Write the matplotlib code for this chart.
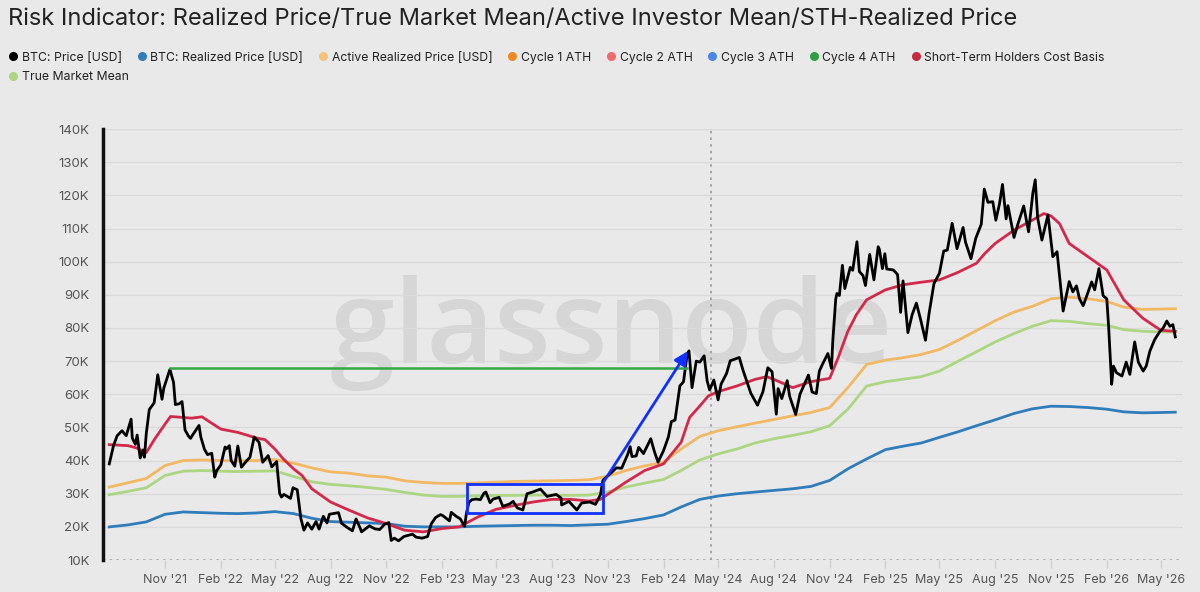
import pandas as pd
import matplotlib
matplotlib.use("Agg")
import matplotlib.pyplot as plt
import matplotlib.dates as mdates
import matplotlib.patches as patches
from matplotlib.lines import Line2D

BACKGROUND = "#e9e9e9"
GRID_COLOR = "#dadada"
TEXT_COLOR = "#222222"
TICK_COLOR = "#555555"
PRICE_COLOR = "#000000"
REALIZED_COLOR = "#2f7dbb"
ACTIVE_COLOR = "#f2b862"
TMM_COLOR = "#acd682"
STH_COLOR = "#d3284a"
MARK_BLUE = "#1030ff"
ATH_GREEN = "#34a844"
FONT = "Inter"

# BTC price, thousand USD
price_dates = [
    "2021-08-01", "2021-08-08", "2021-08-14", "2021-08-22", "2021-08-29", "2021-09-06", "2021-09-08",
    "2021-09-13", "2021-09-16", "2021-09-21", "2021-09-26", "2021-09-28", "2021-10-01", "2021-10-06",
    "2021-10-14", "2021-10-20", "2021-10-27", "2021-10-30", "2021-11-08", "2021-11-09", "2021-11-15",
    "2021-11-18", "2021-11-24", "2021-11-29", "2021-12-04", "2021-12-10", "2021-12-13", "2021-12-16",
    "2021-12-27", "2021-12-30", "2022-01-05", "2022-01-10", "2022-01-17", "2022-01-22", "2022-01-25",
    "2022-02-01", "2022-02-08", "2022-02-10", "2022-02-15", "2022-02-18", "2022-02-24", "2022-03-01",
    "2022-03-07", "2022-03-14", "2022-03-21", "2022-03-28", "2022-04-05", "2022-04-11", "2022-04-20",
    "2022-04-26", "2022-05-04", "2022-05-09", "2022-05-12", "2022-05-16", "2022-05-27", "2022-05-31",
    "2022-06-07", "2022-06-13", "2022-06-18", "2022-06-24", "2022-07-01", "2022-07-08", "2022-07-13",
    "2022-07-20", "2022-07-26", "2022-07-30", "2022-08-14", "2022-08-19", "2022-08-27", "2022-09-06",
    "2022-09-12", "2022-09-19", "2022-09-21", "2022-10-04", "2022-10-13", "2022-10-21", "2022-10-29",
    "2022-11-05", "2022-11-09", "2022-11-14", "2022-11-21", "2022-11-30", "2022-12-14", "2022-12-20",
    "2022-12-30", "2023-01-08", "2023-01-14", "2023-01-21", "2023-01-29", "2023-02-02", "2023-02-13",
    "2023-02-16", "2023-02-24", "2023-03-03", "2023-03-10", "2023-03-13", "2023-03-17", "2023-03-22",
    "2023-03-29", "2023-04-05", "2023-04-11", "2023-04-14", "2023-04-21", "2023-04-26", "2023-05-06",
    "2023-05-12", "2023-05-23", "2023-05-29", "2023-06-05", "2023-06-14", "2023-06-21", "2023-06-30",
    "2023-07-13", "2023-07-24", "2023-08-08", "2023-08-16", "2023-08-17", "2023-08-29", "2023-09-11",
    "2023-09-19", "2023-10-02", "2023-10-12", "2023-10-20", "2023-10-24", "2023-11-01", "2023-11-09",
    "2023-11-15", "2023-11-24", "2023-12-04", "2023-12-08", "2023-12-11", "2023-12-18", "2023-12-22",
    "2023-12-30", "2024-01-11", "2024-01-17", "2024-01-23", "2024-02-01", "2024-02-09", "2024-02-14",
    "2024-02-20", "2024-02-28", "2024-03-05", "2024-03-11", "2024-03-14", "2024-03-19", "2024-03-26",
    "2024-04-01", "2024-04-08", "2024-04-13", "2024-04-17", "2024-04-24", "2024-05-01", "2024-05-06",
    "2024-05-15", "2024-05-21", "2024-06-05", "2024-06-11", "2024-06-24", "2024-07-05", "2024-07-14",
    "2024-07-22", "2024-07-29", "2024-08-05", "2024-08-08", "2024-08-14", "2024-08-23", "2024-08-27",
    "2024-09-06", "2024-09-13", "2024-09-27", "2024-10-03", "2024-10-10", "2024-10-15", "2024-10-20",
    "2024-10-29", "2024-11-04", "2024-11-06", "2024-11-11", "2024-11-13", "2024-11-17", "2024-11-22",
    "2024-11-26", "2024-12-05", "2024-12-09", "2024-12-16", "2024-12-20", "2024-12-26", "2024-12-30",
    "2025-01-06", "2025-01-13", "2025-01-20", "2025-01-22", "2025-01-27", "2025-01-31", "2025-02-03",
    "2025-02-14", "2025-02-21", "2025-02-26", "2025-03-02", "2025-03-10", "2025-03-17", "2025-03-24",
    "2025-03-31", "2025-04-08", "2025-04-14", "2025-04-22", "2025-05-01", "2025-05-08", "2025-05-14",
    "2025-05-22", "2025-05-30", "2025-06-09", "2025-06-13", "2025-06-22", "2025-06-30", "2025-07-09",
    "2025-07-14", "2025-07-20", "2025-07-28", "2025-08-02", "2025-08-08", "2025-08-13", "2025-08-19",
    "2025-08-22", "2025-09-01", "2025-09-07", "2025-09-17", "2025-09-25", "2025-10-02", "2025-10-06",
    "2025-10-10", "2025-10-17", "2025-10-27", "2025-11-04", "2025-11-11", "2025-11-17", "2025-11-21",
    "2025-12-01", "2025-12-07", "2025-12-13", "2025-12-18", "2025-12-24", "2025-12-30", "2026-01-07",
    "2026-01-12", "2026-01-19", "2026-01-26", "2026-02-01", "2026-02-04", "2026-02-09", "2026-02-12",
    "2026-02-17", "2026-02-26", "2026-03-05", "2026-03-11", "2026-03-19", "2026-03-25", "2026-04-02",
    "2026-04-07", "2026-04-13", "2026-04-21", "2026-04-29", "2026-05-05", "2026-05-11", "2026-05-16",
    "2026-05-21", "2026-05-25",
]
price_values = [
    39.0, 44.5, 47.5, 49.0, 47.5, 52.5, 46.8,
    44.9, 47.7, 40.8, 43.2, 41.0, 48.1, 55.4,
    57.4, 65.9, 58.5, 61.9, 66.9, 67.5, 63.6,
    56.9, 57.1, 57.8, 49.2, 47.3, 46.7, 47.6,
    50.6, 47.1, 43.4, 41.8, 42.2, 35.0, 36.9,
    38.7, 44.1, 43.5, 44.5, 40.0, 38.3, 44.4,
    38.0, 39.6, 41.0, 47.1, 45.5, 39.5, 41.5,
    38.1, 39.7, 30.1, 29.0, 29.8, 28.6, 31.8,
    31.2, 22.5, 19.0, 21.2, 19.3, 21.6, 19.3,
    23.2, 21.2, 23.8, 24.3, 21.1, 20.0, 18.8,
    22.4, 19.5, 18.5, 20.3, 19.4, 19.2, 20.8,
    21.3, 15.9, 16.6, 15.8, 17.1, 17.8, 16.9,
    16.6, 17.1, 20.9, 22.8, 23.7, 23.4, 21.8,
    24.4, 23.2, 22.4, 20.2, 24.1, 27.4, 28.2,
    28.4, 28.2, 30.2, 30.5, 27.3, 28.4, 28.9,
    26.2, 26.9, 27.7, 25.7, 25.1, 30.0, 30.5,
    31.4, 29.2, 29.8, 28.7, 26.6, 27.7, 25.1,
    27.2, 27.5, 26.8, 29.7, 34.0, 35.4, 36.7,
    37.8, 37.7, 41.9, 44.2, 41.2, 41.4, 44.0,
    42.1, 46.6, 42.7, 39.5, 43.0, 47.1, 51.8,
    52.2, 62.5, 63.8, 72.1, 73.1, 62.0, 70.0,
    69.7, 71.6, 64.0, 61.3, 64.3, 58.3, 63.1,
    66.3, 70.1, 71.1, 67.3, 60.3, 56.7, 60.8,
    68.0, 66.8, 54.0, 61.7, 58.7, 64.1, 59.4,
    53.9, 60.0, 65.8, 60.7, 60.2, 67.0, 69.0,
    72.3, 67.8, 75.6, 88.7, 90.4, 89.8, 98.9,
    91.9, 98.3, 97.4, 106.0, 97.0, 95.8, 92.8,
    102.2, 94.5, 104.5, 103.7, 97.9, 102.4, 97.8,
    97.5, 96.1, 84.7, 94.2, 78.6, 84.0, 87.5,
    82.5, 76.3, 84.5, 93.4, 96.5, 103.2, 103.5,
    111.6, 103.9, 110.3, 105.9, 100.9, 107.1, 111.3,
    121.9, 117.9, 118.1, 112.5, 117.4, 123.3, 112.9,
    116.9, 107.3, 111.1, 116.8, 109.0, 120.6, 124.7,
    113.2, 106.5, 114.1, 101.5, 103.0, 92.2, 85.1,
    94.0, 90.9, 92.7, 88.8, 86.7, 89.7, 93.9,
    91.5, 97.9, 89.7, 88.8, 80.5, 63.0, 68.5,
    66.5, 65.5, 69.7, 66.0, 75.8, 69.7, 67.0,
    68.5, 73.0, 76.5, 78.8, 80.0, 82.1, 80.5,
    81.0, 77.3,
]

# smooth on-chain models, monthly, thousand USD
model_dates = list(pd.date_range("2021-08-01", "2026-05-01", freq="MS").strftime("%Y-%m-%d")) + ["2026-05-25"]
realized_price = [
    20.0, 20.6, 21.5, 23.8, 24.5,
    24.3, 24.1, 24.0, 24.2, 24.6, 24.0, 22.6, 21.6, 21.4, 21.2, 21.0, 20.2,
    20.0, 20.0, 20.0, 20.2, 20.3, 20.4, 20.5, 20.5, 20.4, 20.6, 20.8, 21.6,
    22.5, 23.6, 26.0, 28.3, 29.3, 30.0, 30.5, 31.0, 31.5, 32.2, 34.0, 37.5,
    40.5, 43.3, 44.3, 45.3, 47.0, 48.7, 50.5, 52.3, 54.2, 55.6, 56.4, 56.3,
    56.0, 55.5, 54.7, 54.4, 54.5, 54.6,
]
active_realized = [
    32.0, 33.3, 34.6, 38.5, 40.0,
    40.2, 40.0, 39.9, 40.0, 40.3, 39.2, 37.8, 36.6, 36.2, 35.4, 35.0, 33.9,
    33.4, 33.1, 33.1, 33.3, 33.5, 33.7, 33.8, 33.9, 34.0, 34.2, 35.3, 37.0,
    38.4, 39.5, 43.5, 47.3, 49.0, 50.2, 51.3, 52.4, 53.5, 54.5, 56.0, 62.0,
    69.0, 70.3, 71.0, 72.0, 73.5, 76.3, 79.2, 82.2, 84.8, 86.5, 88.8, 89.3,
    88.8, 88.0, 86.3, 85.6, 85.7, 85.8,
]
true_market_mean = [
    29.7, 30.7, 31.8, 35.5, 36.8,
    37.0, 36.8, 36.7, 36.8, 36.9, 35.2, 33.6, 32.8, 32.4, 31.9, 31.3, 30.4,
    29.6, 29.2, 29.2, 29.4, 29.5, 29.5, 29.6, 29.6, 29.5, 29.6, 30.5, 32.0,
    33.2, 34.3, 37.0, 40.2, 42.0, 43.5, 45.3, 46.6, 47.6, 48.7, 50.5, 55.5,
    62.5, 63.8, 64.5, 65.3, 67.0, 70.0, 72.8, 75.8, 78.3, 80.5, 82.2, 82.0,
    81.3, 80.8, 79.5, 79.0, 78.8, 78.8,
]

sth_dates = [
    "2021-08-01", "2021-09-01", "2021-09-15", "2021-10-01", "2021-10-15", "2021-11-01", "2021-11-10",
    "2021-12-01", "2021-12-15", "2022-01-01", "2022-01-15", "2022-02-01", "2022-03-01", "2022-04-01",
    "2022-04-15", "2022-05-01", "2022-05-15", "2022-06-01", "2022-06-15", "2022-07-01", "2022-08-01",
    "2022-09-01", "2022-10-01", "2022-11-01", "2022-12-01", "2023-01-01", "2023-02-01", "2023-03-01",
    "2023-04-01", "2023-05-01", "2023-06-01", "2023-07-01", "2023-08-01", "2023-09-01", "2023-10-01",
    "2023-10-20", "2023-11-01", "2023-12-01", "2024-01-01", "2024-02-01", "2024-03-01", "2024-03-15",
    "2024-04-01", "2024-04-15", "2024-05-01", "2024-06-01", "2024-07-01", "2024-07-20", "2024-08-01",
    "2024-09-01", "2024-10-01", "2024-11-01", "2024-11-15", "2024-12-01", "2024-12-15", "2025-01-01",
    "2025-02-01", "2025-03-01", "2025-04-01", "2025-05-01", "2025-06-01", "2025-07-01", "2025-07-15",
    "2025-08-01", "2025-09-01", "2025-10-01", "2025-10-20", "2025-11-01", "2025-11-15", "2025-12-01",
    "2026-01-01", "2026-02-01", "2026-03-01", "2026-04-01", "2026-05-01", "2026-05-25",
]
sth_values = [
    44.8, 44.5, 43.8, 42.4, 46.5, 51.0, 53.3,
    53.0, 52.8, 53.2, 51.5, 49.5, 48.5, 46.8,
    46.3, 43.5, 40.5, 37.5, 35.5, 31.5, 27.5,
    25.0, 22.7, 21.0, 19.0, 18.5, 19.5, 20.0,
    23.0, 25.3, 26.5, 27.5, 28.3, 28.3, 27.8,
    28.3, 29.8, 33.5, 37.0, 39.0, 45.5, 53.0,
    56.5, 59.5, 60.8, 62.5, 64.5, 65.3, 64.5,
    62.0, 63.8, 64.8, 71.0, 79.0, 84.0, 88.5,
    91.5, 93.0, 93.8, 94.5, 96.8, 99.5, 102.5,
    105.5, 109.5, 112.5, 114.5, 113.8, 111.5, 105.5,
    101.5, 97.5, 88.5, 83.0, 79.3, 79.0,
]

# annotations
cycle4_ath = 67.8
ath_line_span = ["2021-11-09", "2024-03-11"]
range_box = ["2023-03-14", "2023-10-25", 24.3, 33.0]
breakout_arrow = [("2023-10-25", 33.5), ("2024-03-12", 73.0)]
halving_date = "2024-04-20"

xtick_dates = pd.date_range("2021-11-01", "2026-05-01", freq="3MS")
yticks = list(range(10, 141, 10))

legend_items = [
    ("BTC: Price [USD]", "#000000"),
    ("BTC: Realized Price [USD]", "#2f7dbb"),
    ("Active Realized Price [USD]", "#f5c27a"),
    ("Cycle 1 ATH", "#ef8a22"),
    ("Cycle 2 ATH", "#f06b6b"),
    ("Cycle 3 ATH", "#4b88e8"),
    ("Cycle 4 ATH", "#2ea043"),
    ("Short-Term Holders Cost Basis", "#c8283f"),
    ("True Market Mean", "#acd682"),
]


def to_num(d):
    return mdates.date2num(pd.Timestamp(d))


def main():
    plt.rcParams["font.family"] = [FONT, "DejaVu Sans"]
    fig = plt.figure(figsize=(12, 5.92), dpi=100)
    fig.patch.set_facecolor(BACKGROUND)
    ax = fig.add_axes([0.086, 0.054, 0.9, 0.728])
    ax.set_facecolor(BACKGROUND)

    ax.text(0.471, 0.457, "glassnode", transform=ax.transAxes, ha="center", va="baseline",
            fontsize=84, color="#d6d6d6", family="Open Sans", fontweight="semibold", zorder=0)

    for y in yticks[1:]:
        ax.axhline(y, color=GRID_COLOR, linewidth=1.0, zorder=1)
    ax.axhline(10, color="#a8a8a8", linewidth=1.2, linestyle=(0, (1.5, 2.5)), zorder=1)
    ax.axvline(to_num(halving_date), color="#9a9a9a", linewidth=1.2, linestyle=(0, (1.5, 2.5)), zorder=1)

    mdts = pd.to_datetime(model_dates)
    ax.plot(mdts, realized_price, color=REALIZED_COLOR, linewidth=2.0, zorder=3)
    ax.plot(mdts, active_realized, color=ACTIVE_COLOR, linewidth=2.0, zorder=3)
    ax.plot(mdts, true_market_mean, color=TMM_COLOR, linewidth=2.0, zorder=3)
    ax.plot(pd.to_datetime(sth_dates), sth_values, color=STH_COLOR, linewidth=2.0, zorder=4)
    ax.plot(pd.to_datetime(price_dates), price_values, color=PRICE_COLOR, linewidth=2.0, zorder=5)

    ax.plot(pd.to_datetime(ath_line_span), [cycle4_ath, cycle4_ath], color=ATH_GREEN, linewidth=1.8, zorder=6)

    x0, x1 = to_num(range_box[0]), to_num(range_box[1])
    ax.add_patch(patches.Rectangle((x0, range_box[2]), x1 - x0, range_box[3] - range_box[2],
                                   fill=False, edgecolor=MARK_BLUE, linewidth=2.0, zorder=7))
    (sd, sv), (ed, ev) = breakout_arrow
    ax.annotate("", xy=(to_num(ed), ev), xytext=(to_num(sd), sv),
                arrowprops=dict(arrowstyle="-|>", color=MARK_BLUE, lw=2.0, mutation_scale=20,
                                shrinkA=0, shrinkB=0), zorder=7)

    ax.set_xlim(to_num("2021-07-22"), to_num("2026-06-07"))
    ax.set_ylim(10, 140)
    ax.set_yticks(yticks)
    ax.set_yticklabels([f"{v}K" for v in yticks])
    ax.set_xticks(xtick_dates)
    ax.set_xticklabels([d.strftime("%b '%y") for d in xtick_dates])
    ax.tick_params(axis="y", length=0, pad=10, labelsize=9.5, colors=TICK_COLOR)
    ax.tick_params(axis="x", length=6, width=1, color="#cfcfcf", pad=4, labelsize=9, labelcolor=TICK_COLOR)

    for name, spine in ax.spines.items():
        spine.set_visible(name == "left")
    ax.spines["left"].set_color("#111111")
    ax.spines["left"].set_linewidth(2.5)

    fig.text(0.007, 0.968, "Risk Indicator: Realized Price/True Market Mean/Active Investor Mean/STH-Realized Price",
             fontsize=17, color=TEXT_COLOR, ha="left", va="center")

    handles = [Line2D([], [], linestyle="none", marker="o", markersize=5.5, color=c) for _, c in legend_items]
    labels = [t for t, _ in legend_items]
    fig.legend(handles[:8], labels[:8], loc="upper left", bbox_to_anchor=(0.0, 0.925), ncol=8,
               frameon=False, fontsize=8.8, handletextpad=0.2, columnspacing=1.13, handlelength=1.0,
               labelcolor=TEXT_COLOR, borderaxespad=0.2)
    fig.legend(handles[8:], labels[8:], loc="upper left", bbox_to_anchor=(0.0, 0.892), ncol=1,
               frameon=False, fontsize=8.8, handletextpad=0.2, handlelength=1.0,
               labelcolor=TEXT_COLOR, borderaxespad=0.2)

    fig.savefig("out.png", dpi=100, facecolor=BACKGROUND)
    plt.close(fig)


if __name__ == "__main__":
    main()
